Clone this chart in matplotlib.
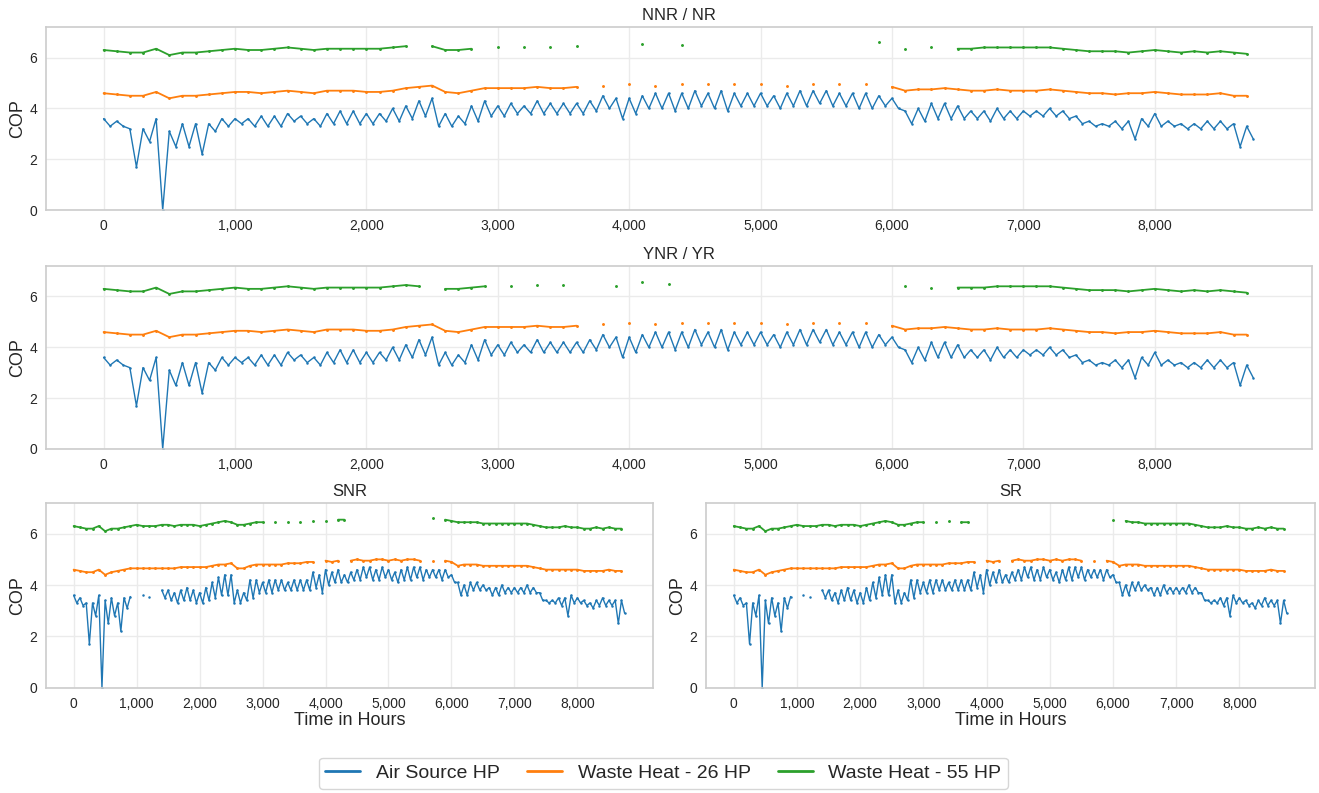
import numpy as np
import matplotlib
matplotlib.use("Agg")
import matplotlib.pyplot as plt
import matplotlib.ticker as mticker
import seaborn as sns

nan = np.nan

# hourly samples every 100 h (0 .. 8700)
hours = np.arange(0, 8800, 100)

# NNR/NR and YNR/YR : air source HP, local highs and lows per 100 h window
blue_top_hi = [3.6, 3.5, 3.2, 3.2, 3.6, 3.1, 3.4, 3.4, 3.4, 3.6,
               3.6, 3.6, 3.7, 3.7, 3.8, 3.7, 3.6, 3.8, 3.9, 3.9,
               3.8, 3.8, 4.0, 4.1, 4.3, 4.4, 3.8, 3.7, 4.1, 4.3,
               4.1, 4.2, 4.1, 4.3, 4.2, 4.2, 4.2, 4.3, 4.5, 4.4,
               4.4, 4.5, 4.6, 4.6, 4.6, 4.7, 4.6, 4.7, 4.6, 4.6,
               4.6, 4.5, 4.6, 4.7, 4.7, 4.7, 4.6, 4.6, 4.6, 4.5,
               4.4, 3.9, 4.0, 4.2, 4.2, 4.1, 3.9, 3.9, 4.0, 3.9,
               3.9, 3.9, 4.0, 3.9, 3.7, 3.5, 3.4, 3.5, 3.5, 3.6,
               3.8, 3.5, 3.4, 3.4, 3.5, 3.5, 3.4, 3.3]
blue_top_lo = [3.3, 3.3, 1.7, 2.7, 0.0, 2.5, 2.5, 2.2, 3.1, 3.3,
               3.4, 3.3, 3.3, 3.3, 3.5, 3.4, 3.3, 3.4, 3.4, 3.4,
               3.4, 3.5, 3.5, 3.6, 3.7, 3.3, 3.3, 3.4, 3.5, 3.7,
               3.7, 3.8, 3.8, 3.8, 3.8, 3.8, 3.8, 3.9, 4.0, 3.6,
               3.8, 4.0, 4.0, 3.9, 4.0, 4.1, 4.0, 3.9, 4.1, 4.1,
               4.1, 4.0, 4.1, 4.1, 4.2, 4.1, 4.1, 4.0, 4.0, 4.1,
               4.0, 3.4, 3.5, 3.6, 3.6, 3.6, 3.6, 3.5, 3.6, 3.6,
               3.7, 3.7, 3.7, 3.6, 3.4, 3.3, 3.3, 3.2, 2.8, 3.3,
               3.3, 3.3, 3.2, 3.2, 3.2, 3.2, 2.5, 2.8]
orange_top = [4.6, 4.55, 4.5, 4.5, 4.65, 4.4, 4.5, 4.5, 4.55, 4.6,
              4.65, 4.65, 4.6, 4.65, 4.7, 4.65, 4.6, 4.7, 4.7, 4.7,
              4.65, 4.65, 4.7, 4.8, 4.85, 4.9, 4.65, 4.6, 4.7, 4.8,
              4.8, 4.8, 4.8, 4.85, 4.8, 4.8, 4.85, nan, 4.9, nan,
              4.95, nan, 4.9, nan, 4.95, nan, 4.95, nan, 4.95, nan,
              4.95, nan, 4.9, nan, 4.95, nan, 4.95, nan, 4.95, nan,
              4.85, 4.7, 4.75, 4.75, 4.8, 4.75, 4.7, 4.7, 4.75, 4.7,
              4.7, 4.7, 4.75, 4.7, 4.65, 4.6, 4.6, 4.55, 4.6, 4.6,
              4.65, 4.6, 4.55, 4.55, 4.55, 4.6, 4.5, 4.5]
green_nnr = [6.3, 6.25, 6.2, 6.2, 6.35, 6.1, 6.2, 6.2, 6.25, 6.3,
             6.35, 6.3, 6.3, 6.35, 6.4, 6.35, 6.3, 6.35, 6.35, 6.35,
             6.35, 6.35, 6.4, 6.45, nan, 6.45, 6.3, 6.3, 6.35, nan,
             6.4, nan, 6.4, nan, 6.4, nan, 6.45, nan, nan, nan,
             nan, 6.55, nan, nan, 6.5, nan, nan, nan, nan, nan,
             nan, nan, nan, nan, nan, nan, nan, nan, nan, 6.6,
             nan, 6.35, nan, 6.4, nan, 6.35, 6.35, 6.4, 6.4, 6.4,
             6.4, 6.4, 6.4, 6.35, 6.3, 6.25, 6.25, 6.25, 6.2, 6.25,
             6.3, 6.25, 6.2, 6.25, 6.2, 6.25, 6.2, 6.15]
green_ynr = [6.3, 6.25, 6.2, 6.2, 6.35, 6.1, 6.2, 6.2, 6.25, 6.3,
             6.35, 6.3, 6.3, 6.35, 6.4, 6.35, 6.3, 6.35, 6.35, 6.35,
             6.35, 6.35, 6.4, 6.45, 6.4, nan, 6.3, 6.3, 6.35, 6.4,
             nan, 6.4, nan, 6.45, nan, 6.45, nan, nan, nan, 6.4,
             nan, 6.55, nan, 6.5, nan, nan, nan, nan, nan, nan,
             nan, nan, nan, nan, nan, nan, nan, nan, nan, nan,
             nan, 6.4, nan, 6.35, nan, 6.35, 6.35, 6.35, 6.4, 6.4,
             6.4, 6.4, 6.4, 6.35, 6.3, 6.25, 6.25, 6.25, 6.2, 6.25,
             6.3, 6.25, 6.2, 6.25, 6.2, 6.25, 6.2, 6.15]

# SNR and SR
blue_bot_hi = [3.6, 3.5, 3.3, 3.3, 3.6, 3.4, 3.5, 3.3, 3.5, 3.55,
               nan, 3.6, 3.55, nan, 3.8, 3.8, 3.7, 3.8, 3.9, 3.8,
               3.7, 3.9, 4.1, 4.3, 4.4, 4.4, 3.8, 3.7, 4.2, 4.2,
               4.1, 4.2, 4.2, 4.2, 4.1, 4.2, 4.2, 4.2, 4.5, 4.4,
               4.6, 4.5, 4.6, 4.4, 4.5, 4.6, 4.7, 4.7, 4.6, 4.7,
               4.6, 4.5, 4.6, 4.7, 4.7, 4.7, 4.6, 4.6, 4.6, 4.6,
               4.4, 4.1, 4.0, 4.1, 4.1, 4.0, 3.9, 3.9, 4.0, 3.9,
               3.9, 3.9, 4.0, 3.9, 3.7, 3.4, 3.4, 3.5, 3.5, 3.6,
               3.5, 3.4, 3.3, 3.4, 3.5, 3.4, 3.4, 3.4]
blue_bot_lo = [3.3, 3.2, 1.7, 2.8, 0.0, 2.5, 2.8, 2.2, 3.1, nan,
               nan, nan, nan, nan, 3.5, 3.4, 3.3, 3.4, 3.4, 3.3,
               3.3, 3.4, 3.5, 3.6, 3.6, 3.3, 3.3, 3.4, 3.5, 3.7,
               3.7, 3.7, 3.8, 3.8, 3.8, 3.8, 3.8, 3.8, 3.9, 3.7,
               4.0, 4.1, 4.1, 4.1, 4.2, 4.2, 4.3, 4.2, 4.2, 4.3,
               4.2, 4.1, 4.2, 4.2, 4.3, 4.2, 4.3, 4.3, 4.2, 4.3,
               4.1, 3.6, 3.6, 3.8, 3.8, 3.8, 3.6, 3.6, 3.7, 3.7,
               3.7, 3.7, 3.7, 3.7, 3.4, 3.3, 3.3, 3.2, 2.8, 3.3,
               3.3, 3.2, 3.1, 3.2, 3.2, 3.2, 2.5, 2.9]
orange_bot = [4.6, 4.55, 4.5, 4.5, 4.6, 4.4, 4.5, 4.55, 4.6, 4.65,
              4.65, 4.65, 4.65, 4.65, 4.65, 4.65, 4.65, 4.7, 4.7, 4.7,
              4.7, 4.7, 4.75, 4.8, 4.8, 4.85, 4.65, 4.65, 4.75, 4.8,
              4.8, 4.8, 4.8, 4.8, 4.85, 4.85, 4.85, 4.9, 4.9, nan,
              4.95, 4.9, 4.95, nan, 4.95, 5.0, 4.95, 4.95, 5.0, 5.0,
              4.95, 5.0, 4.95, 5.0, 5.0, 4.95, nan, 4.95, nan, 4.95,
              4.9, 4.75, 4.8, 4.8, 4.8, 4.75, 4.75, 4.75, 4.75, 4.75,
              4.75, 4.75, 4.75, 4.7, 4.65, 4.6, 4.6, 4.6, 4.6, 4.6,
              4.6, 4.55, 4.55, 4.55, 4.55, 4.6, 4.55, 4.55]
green_snr = [6.3, 6.25, 6.2, 6.2, 6.3, 6.1, 6.2, 6.2, 6.25, 6.3,
             6.35, 6.3, 6.3, 6.3, 6.35, 6.35, 6.3, 6.35, 6.35, 6.35,
             6.3, 6.35, 6.4, 6.45, 6.5, 6.45, 6.35, 6.35, 6.4, 6.45,
             6.45, nan, 6.45, nan, 6.45, nan, 6.45, nan, 6.5, nan,
             6.5, nan, 6.55, 6.55, nan, nan, nan, nan, nan, nan,
             nan, nan, nan, nan, nan, nan, nan, 6.6, nan, 6.55,
             6.5, 6.45, 6.45, 6.45, 6.45, 6.4, 6.4, 6.4, 6.4, 6.4,
             6.4, 6.4, 6.4, 6.35, 6.3, 6.25, 6.25, 6.25, 6.3, 6.25,
             6.25, 6.2, 6.2, 6.25, 6.2, 6.25, 6.2, 6.2]
green_sr = [6.3, 6.25, 6.2, 6.2, 6.3, 6.1, 6.2, 6.2, 6.25, 6.3,
            6.35, 6.3, 6.3, 6.3, 6.35, 6.35, 6.3, 6.35, 6.35, 6.35,
            6.3, 6.35, 6.4, 6.45, 6.5, 6.45, 6.35, 6.35, 6.4, 6.45,
            6.45, nan, 6.45, nan, 6.5, nan, 6.45, 6.45, nan, nan,
            nan, nan, nan, nan, nan, nan, nan, nan, nan, nan,
            nan, nan, nan, nan, nan, nan, nan, nan, nan, nan,
            6.55, nan, 6.5, 6.45, 6.45, 6.4, 6.4, 6.4, 6.4, 6.4,
            6.4, 6.4, 6.4, 6.35, 6.3, 6.25, 6.25, 6.25, 6.3, 6.25,
            6.25, 6.2, 6.2, 6.25, 6.2, 6.25, 6.2, 6.2]

titles = ["NNR / NR", "YNR / YR", "SNR", "SR"]
labels = ["Air Source HP", "Waste Heat - 26 HP", "Waste Heat - 55 HP"]
colors = ["#1f77b4", "#ff7f0e", "#2ca02c"]

sns.set_style("whitegrid")
plt.rcParams["font.family"] = ["Liberation Sans", "DejaVu Sans"]

fig = plt.figure(figsize=(13.19, 7.93), dpi=100)
ax1 = fig.add_axes([0.0349, 0.735, 0.9598, 0.2308])
ax2 = fig.add_axes([0.0349, 0.4338, 0.9598, 0.2308])
ax3 = fig.add_axes([0.0349, 0.1330, 0.4600, 0.2327])
ax4 = fig.add_axes([0.5353, 0.1330, 0.4617, 0.2327])


def zigzag(hi, lo):
    # peak at start of each window, trough half way
    x = np.column_stack([hours, hours + 50]).ravel()
    y = np.column_stack([hi, lo]).ravel()
    return x, y


panels = [
    (ax1, blue_top_hi, blue_top_lo, orange_top, green_nnr),
    (ax2, blue_top_hi, blue_top_lo, orange_top, green_ynr),
    (ax3, blue_bot_hi, blue_bot_lo, orange_bot, green_snr),
    (ax4, blue_bot_hi, blue_bot_lo, orange_bot, green_sr),
]

for k, (ax, hi, lo, orng, grn) in enumerate(panels):
    bx, by = zigzag(hi, lo)
    ax.plot(bx, by, color=colors[0], lw=1.0, marker="o", ms=0.8,
            label=labels[0])
    ax.plot(hours, orng, color=colors[1], lw=1.3, marker="o", ms=1.1,
            label=labels[1])
    ax.plot(hours, grn, color=colors[2], lw=1.3, marker="o", ms=1.1,
            label=labels[2])
    ax.set_xlim(-438, 9197)
    ax.set_ylim(0, 7.2)
    ax.set_yticks([0, 2, 4, 6])
    ax.set_xticks(range(0, 9000, 1000))
    ax.xaxis.set_major_formatter(mticker.StrMethodFormatter("{x:,.0f}"))
    ax.tick_params(labelsize=10, pad=3)
    ax.set_title(titles[k], fontsize=12, pad=5)
    ax.set_ylabel("COP", fontsize=13, labelpad=2)
    for s in ax.spines.values():
        s.set_color("#cccccc")
        s.set_linewidth(1.2)
    ax.grid(color="#ebebeb", lw=1.0)
    if k >= 2:
        ax.set_xlabel("Time in Hours", fontsize=13, labelpad=1)

leg_handles = [plt.Line2D([], [], color=c, lw=2) for c in colors]
fig.legend(leg_handles, labels, loc="lower center", ncol=3,
           bbox_to_anchor=(0.503, -0.007), fontsize=14, frameon=True,
           handlelength=1.8, handletextpad=0.8, columnspacing=1.4,
           borderpad=0.35)

fig.savefig("out.png", dpi=100)
